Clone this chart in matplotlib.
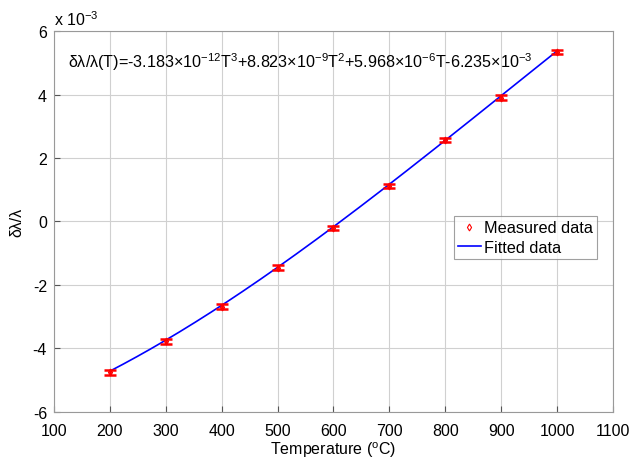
import numpy as np
import matplotlib
matplotlib.use("Agg")
import matplotlib.pyplot as plt

plt.rcParams['font.family'] = ['Liberation Sans', 'DejaVu Sans']
plt.rcParams['mathtext.fontset'] = 'custom'
plt.rcParams['mathtext.rm'] = 'Liberation Sans'
plt.rcParams['mathtext.it'] = 'Liberation Sans:italic'
plt.rcParams['axes.unicode_minus'] = False

# measured data (delta lambda / lambda, in units of 1e-3)
temperature = [200, 300, 400, 500, 600, 700, 800, 900, 1000]
measured = [-4.75, -3.78, -2.68, -1.45, -0.21, 1.12, 2.56, 3.90, 5.35]
error = [0.07, 0.07, 0.07, 0.07, 0.07, 0.07, 0.06, 0.07, 0.06]

# cubic fit coefficients, as printed on the chart
fit_coeffs = [-3.183e-12, 8.823e-9, 5.968e-6, -6.235e-3]

x_ticks = list(range(100, 1101, 100))
y_ticks = [-6, -4, -2, 0, 2, 4, 6]

fig = plt.figure(figsize=(6.33, 4.64), dpi=100)
ax = fig.add_axes([0.0853, 0.110, 0.8831, 0.821])

t_fit = np.linspace(temperature[0], temperature[-1], 200)
y_fit = np.polyval(fit_coeffs, t_fit) * 1e3

ax.errorbar(temperature, measured, yerr=error, fmt='none', ecolor='red',
            elinewidth=2.0, capsize=4, capthick=1.8, zorder=3)
ax.plot(temperature, measured, linestyle='none', marker='d', markersize=3.5,
        markerfacecolor='none', markeredgecolor='red', markeredgewidth=0.8,
        label='Measured data', zorder=4)
ax.plot(t_fit, y_fit, color='blue', linewidth=1.2, label='Fitted data',
        zorder=2)

ax.set_xlim(100, 1100)
ax.set_ylim(-6, 6)
ax.set_xticks(x_ticks)
ax.set_yticks(y_ticks)
ax.tick_params(direction='in', labelsize=11.5, length=4, color='#555555')
ax.tick_params(axis='x', pad=8)
ax.tick_params(axis='y', pad=5)
ax.grid(True, color='#d0d0d0', linewidth=0.8)
ax.set_axisbelow(True)
for s in ax.spines.values():
    s.set_color('#999999')
    s.set_linewidth(0.8)

ax.set_xlabel('Temperature ($\\mathregular{^{o}}$C)', fontsize=11.5, labelpad=1)
ax.set_ylabel('δλ/λ', fontsize=11.5, labelpad=6)
ax.text(0.0, 1.008, 'x 10$^{-3}$', transform=ax.transAxes, fontsize=11.5,
        ha='left', va='bottom')

eq = ('δλ/λ(T)=-3.183×10$^{-12}$T$^{3}$+8.823×10$^{-9}$T$^{2}$'
      '+5.968×10$^{-6}$T-6.235×10$^{-3}$')
ax.text(0.025, 0.921, eq, transform=ax.transAxes, fontsize=11.6,
        ha='left', va='center')

leg = ax.legend(loc='upper right', bbox_to_anchor=(0.971, 0.514), fontsize=11.7,
                frameon=True, fancybox=False, borderpad=0.25, labelspacing=0.28,
                handlelength=1.4, handletextpad=0.2, borderaxespad=0)
leg.get_frame().set_edgecolor('#888888')
leg.get_frame().set_linewidth(0.8)

fig.savefig('out.png', dpi=100)
